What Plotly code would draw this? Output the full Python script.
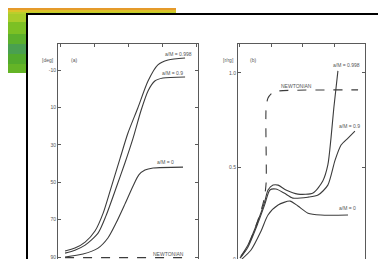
import plotly.graph_objects as go

# ---------------- data ----------------
# Panel (a): angle [deg] vs x (arbitrary units, ticks 0..4)
a_x_0998 = [0.12, 0.41, 0.71, 1.00, 1.24, 1.47, 1.74, 1.97, 2.26, 2.56, 2.85, 3.15, 3.65]
a_y_0998 = [86.8, 85.2, 82.0, 76.1, 66.5, 53.1, 37.1, 23.7, 10.3, -4.1, -12.7, -15.3, -16.4]
a_x_09 = [0.12, 0.41, 0.71, 1.09, 1.32, 1.62, 1.88, 2.12, 2.35, 2.56, 2.76, 3.00, 3.65]
a_y_09 = [87.9, 86.3, 83.6, 77.2, 68.1, 53.1, 39.7, 26.4, 11.9, 1.2, -4.1, -5.7, -6.3]
a_x_0 = [0.12, 0.65, 1.09, 1.38, 1.62, 1.88, 2.12, 2.29, 2.47, 2.71, 3.59]
a_y_0 = [90.0, 88.4, 85.2, 79.8, 71.8, 61.7, 52.0, 46.1, 43.5, 42.4, 41.9]
a_x_newt = [0.12, 3.82]
a_y_newt = [90.3, 90.3]
a_yticks = [-10, 10, 30, 50, 70, 90]
a_yticktext = ["-10", "10", "30", "50", "70", "90"]

# Panel (b): r/rg vs x
b_x_0998 = [0.03, 0.25, 0.57, 0.79, 0.89, 1.05, 1.21, 1.46, 1.84, 2.32, 2.63, 2.79, 2.89, 2.98, 3.11]
b_y_0998 = [0.027, 0.085, 0.213, 0.319, 0.378, 0.404, 0.404, 0.378, 0.356, 0.362, 0.426, 0.511, 0.654, 0.814, 1.011]
b_x_09 = [0.03, 0.25, 0.57, 0.79, 0.95, 1.14, 1.40, 1.68, 2.16, 2.48, 2.79, 3.02, 3.21, 3.43, 3.65]
b_y_09 = [0.021, 0.074, 0.202, 0.303, 0.378, 0.383, 0.362, 0.335, 0.340, 0.351, 0.404, 0.537, 0.617, 0.654, 0.691]
b_x_0 = [0.06, 0.35, 0.67, 0.89, 1.21, 1.59, 1.84, 2.16, 2.57, 3.43]
b_y_0 = [0.011, 0.059, 0.160, 0.245, 0.298, 0.319, 0.293, 0.255, 0.245, 0.245]
b_x_newt = [0.0, 0.25, 0.57, 0.76, 0.83, 0.83, 0.89, 1.02, 1.21, 3.75]
b_y_newt = [0.016, 0.080, 0.218, 0.324, 0.415, 0.814, 0.867, 0.894, 0.904, 0.910]
b_yticks = [0.5, 1.0]
b_yticktext = ["0.5", "1.0"]
b_zero_label = "0"
x_ticks = [0, 1, 2, 3, 4]

W, H = 386, 259
LINE = "#3c3c3c"
TXT = "#555555"
FONT = "Liberation Sans"

fig = go.Figure()

def line(x, y, xa, ya, dash="solid", shape="spline"):
    ln = dict(color=LINE, width=1.1, dash=dash, shape=shape)
    if shape == "spline":
        ln["smoothing"] = 0.7
    fig.add_trace(go.Scatter(x=x, y=y, xaxis=xa, yaxis=ya, mode="lines",
                             line=ln, showlegend=False, hoverinfo="skip"))

line(a_x_newt, a_y_newt, "x", "y", dash="dash", shape="linear")
line(a_x_0998, a_y_0998, "x", "y")
line(a_x_09, a_y_09, "x", "y")
line(a_x_0, a_y_0, "x", "y")

line(b_x_newt, b_y_newt, "x2", "y2", dash="dash")
line(b_x_0998, b_y_0998, "x2", "y2")
line(b_x_09, b_y_09, "x2", "y2")
line(b_x_0, b_y_0, "x2", "y2")

def px(x):
    return x / W

def py(y):
    return 1 - y / H

axis_common = dict(showgrid=False, zeroline=False, showline=True, linecolor="#5a5a5a",
                   linewidth=1, mirror="ticks", ticks="inside", ticklen=3,
                   tickcolor="#5a5a5a", tickfont=dict(size=5, color=TXT, family=FONT))

fig.update_layout(
    width=W, height=H, margin=dict(l=0, r=0, t=0, b=0),
    paper_bgcolor="white", plot_bgcolor="white",
    xaxis=dict(domain=[px(50), px(190)], range=[-0.088, 4.03], tickvals=x_ticks,
               showticklabels=False, anchor="y", **axis_common),
    yaxis=dict(domain=[py(256), py(36)], range=[93.7, -23.9], tickvals=a_yticks,
               ticktext=a_yticktext, anchor="x", **axis_common),
    xaxis2=dict(domain=[px(230), px(357)], range=[-0.063, 3.97], tickvals=x_ticks,
                showticklabels=False, anchor="y2", **axis_common),
    yaxis2=dict(domain=[py(255), py(36)], range=[-0.01, 1.154], tickvals=b_yticks,
                ticktext=b_yticktext, anchor="x2", **axis_common),
)

# background decoration: coloured slide corner and black frame
stripes_top = [(0, 2, "#e59a2a"), (2, 4, "#dcc22a"), (4, 6, "#b9cf2c")]
shapes = []
for y0, y1, c in stripes_top:
    shapes.append(dict(type="rect", xref="paper", yref="paper", x0=0, x1=px(168),
                       y0=py(y1), y1=py(y0), fillcolor=c, line=dict(width=0), layer="below"))
stripes_left = [(6, 14, "#a8cc2a"), (14, 26, "#7cc024"), (26, 36, "#5cb02c"),
                (36, 46, "#4aa050"), (46, 56, "#52aa2c"), (56, 65, "#64b426")]
for y0, y1, c in stripes_left:
    shapes.append(dict(type="rect", xref="paper", yref="paper", x0=0, x1=px(18),
                       y0=py(y1), y1=py(y0), fillcolor=c, line=dict(width=0), layer="below"))
# black frame
shapes.append(dict(type="rect", xref="paper", yref="paper", x0=px(18), x1=px(20),
                   y0=py(259), y1=py(5), fillcolor="black", line=dict(width=0), layer="below"))
shapes.append(dict(type="rect", xref="paper", yref="paper", x0=px(18), x1=px(384),
                   y0=py(7), y1=py(5), fillcolor="black", line=dict(width=0), layer="below"))
shapes.append(dict(type="rect", xref="paper", yref="paper", x0=px(380), x1=px(384),
                   y0=py(259), y1=py(5), fillcolor="black", line=dict(width=0), layer="below"))
fig.update_layout(shapes=shapes)

def label(text, x, y, xa, ya, xanchor="left", size=5, yanchor="middle"):
    fig.add_annotation(text=text, x=x, y=y, xref=xa, yref=ya, showarrow=False,
                       xanchor=xanchor, yanchor=yanchor, borderpad=0,
                       font=dict(size=size, color=TXT, family=FONT))

# panel (a) labels
label("(a)", 0.26, -15.3, "x", "y")
label("[deg]", px(47), py(52), "paper", "paper", xanchor="right")
label("a/M = 0.998", 3.88, -18.5, "x", "y", xanchor="right")
label("a/M = 0.9", 3.63, -8.3, "x", "y", xanchor="right")
label("a/M = 0", 3.35, 39.0, "x", "y", xanchor="right")
label("NEWTONIAN", 3.65, 88.3, "x", "y", xanchor="right")

# panel (b) labels
label("(b)", 0.30, 1.07, "x2", "y2")
label("[r/rg]", px(227), py(52), "paper", "paper", xanchor="right")
label(b_zero_label, px(229), py(251), "paper", "paper", xanchor="right", yanchor="middle")
label("a/M = 0.998", 3.85, 1.04, "x2", "y2", xanchor="right")
label("a/M = 0.9", 3.85, 0.72, "x2", "y2", xanchor="right")
label("a/M = 0", 3.7, 0.28, "x2", "y2", xanchor="right")
label("NEWTONIAN", 1.27, 0.93, "x2", "y2")

fig.write_html("out.html")
